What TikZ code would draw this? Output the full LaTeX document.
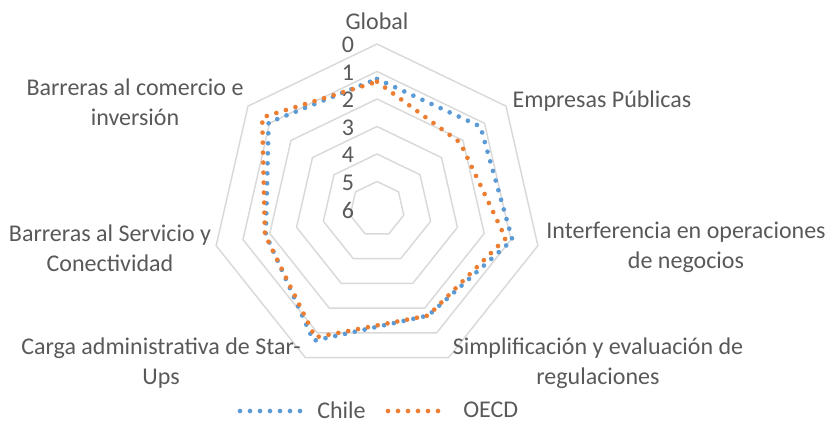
\documentclass[tikz,border=0pt]{standalone}
\usepackage{fontspec}
\setmainfont{Carlito}
\definecolor{txtgray}{HTML}{595959}
\definecolor{gridgray}{HTML}{D9D9D9}
\definecolor{chileblue}{HTML}{5B9BD5}
\definecolor{oecdorange}{HTML}{ED7D31}

\begin{document}
\begin{tikzpicture}[x=0.75pt,y=0.75pt,
  lbl/.style={text=txtgray,font=\fontsize{18}{22.5}\selectfont,align=center,inner sep=0pt},
  ring/.style={draw=gridgray,line width=1.1pt,line join=round},
  serie/.style={line width=3.5pt,line cap=round,line join=round,dash pattern=on 0pt off 7.5pt}]
  \useasboundingbox (-377,-214) rectangle (451,209);
  % rejilla
  \foreach \v in {0,...,5}
    \draw[ring] (90:{(6-\v)*27.5}) \foreach \k in {1,...,6} { -- ({90-\k*360/7}:{(6-\v)*27.5}) } -- cycle;
  \foreach \v in {0,...,6}
    \node[lbl] (t\v) at (-29,{164-27.5*\v}) {\v};
  % ejes
  \node[lbl] (global) at (0,188) {Global};
  \node[lbl] (empresas) at (225,108) {Empresas P\'ublicas};
  \node[lbl] (interf) at (309,-38) {Interferencia en operaciones\\de negocios};
  \node[lbl] (simpl) at (221,-154.5) {Simplificaci\'on y evaluaci\'on de\\regulaciones};
  \node[lbl] (carga) at (-216,-154.5) {Carga administrativa de Star-\\Ups};
  \node[lbl] (servicio) at (-267,-39) {Barreras al Servicio y\\Conectividad};
  \node[lbl] (comercio) at (-242,107) {Barreras al comercio e\\inversi\'on};
  % series
  \foreach \r [count=\k] in {1.27,1.19,0.95,1.7,0.68,1.85,0.96}
    \coordinate (c\k) at ({90-(\k-1)*360/7}:{(6-\r)*27.5});
  \foreach \r [count=\k] in {1.37,2.13,1.2,1.7,0.82,1.82,0.66}
    \coordinate (o\k) at ({90-(\k-1)*360/7}:{(6-\r)*27.5});
  \draw[serie,draw=chileblue] (c1) -- (c2) -- (c3) -- (c4) -- (c5) -- (c6) -- (c7) -- cycle;
  \draw[serie,draw=oecdorange] (o1) -- (o2) -- (o3) -- (o4) -- (o5) -- (o6) -- (o7) -- cycle;
  % leyenda
  \coordinate (lc1) at (-137,-202);
  \coordinate (lc2) at (-68,-202);
  \draw[serie,draw=chileblue] (lc1) -- (lc2);
  \node[lbl,anchor=west] (lchile) at (-60,-201) {Chile};
  \coordinate (lo1) at (11,-202);
  \coordinate (lo2) at (71,-202);
  \draw[serie,draw=oecdorange] (lo1) -- (lo2);
  \node[lbl,anchor=west] (loecd) at (86,-201) {OECD};
\end{tikzpicture}
\end{document}
